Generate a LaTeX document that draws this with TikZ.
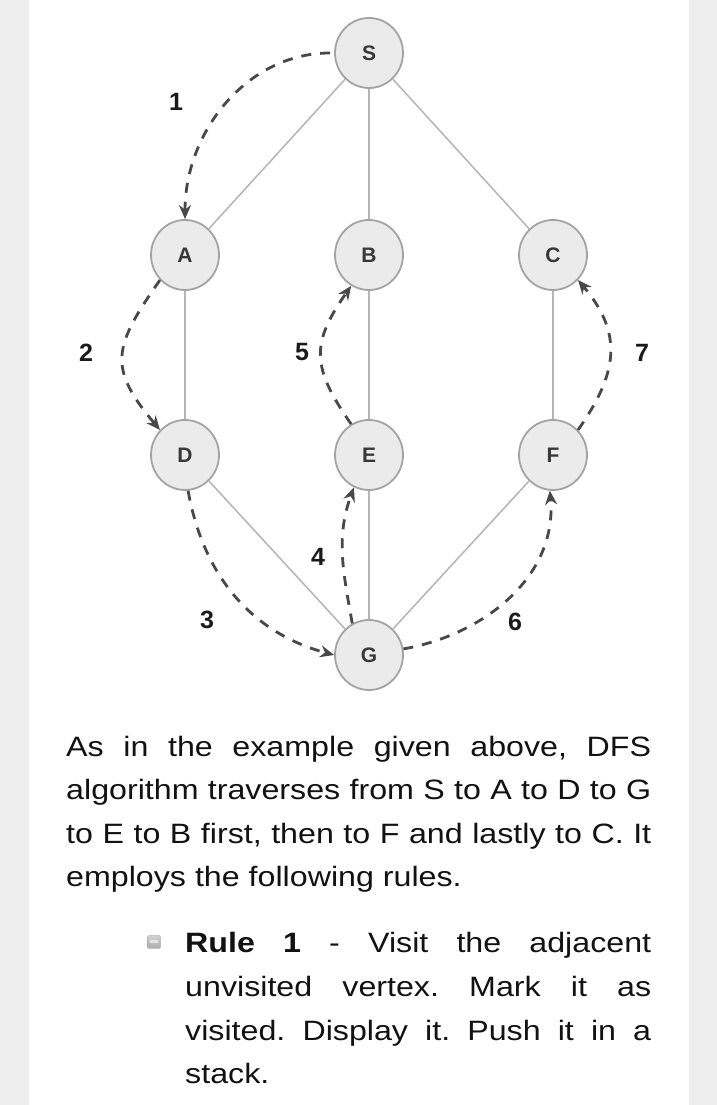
\documentclass[tikz,border=0pt]{standalone}
\usepackage{fontspec}
\setmainfont{Liberation Sans}
\newfontfamily\txtfont{Liberation Sans}[FakeStretch=1.15]
\usepackage{tikz}
\usetikzlibrary{shapes.geometric,arrows.meta}
\frenchspacing

\definecolor{stripgray}{HTML}{EDEDED}
\definecolor{nodefill}{HTML}{EBEBEB}
\definecolor{nodeline}{HTML}{A3A3A3}
\definecolor{edgegray}{HTML}{B5B5B5}
\definecolor{walkgray}{HTML}{484848}
\definecolor{inkgray}{HTML}{1A1A1A}

\tikzset{
  vertex/.style={ellipse,draw=nodeline,fill=nodefill,line width=1.8pt,minimum width=68pt,minimum height=70pt,inner sep=0pt,
    text=black!78,font=\fontsize{21}{21}\selectfont\bfseries},
  edge/.style={draw=edgegray,line width=1.5pt},
  walk/.style={draw=walkgray,line width=2.8pt,dash pattern=on 10pt off 9pt,-{Stealth[length=14pt,width=12pt]}},
  steplabel/.style={text=inkgray,font=\fontsize{25}{25}\selectfont\bfseries},
  txtline/.style={anchor=base west,inner sep=0pt,text=black!93,font=\txtfont\fontsize{28}{28}\selectfont}
}

\begin{document}
\begin{tikzpicture}[x=1pt,y=1pt]
	\useasboundingbox (0,0) rectangle (717,1105);
	\fill[white] (0,0) rectangle (717,1105);
	\fill[stripgray] (0,0) rectangle (29,1105);
	\fill[stripgray] (689,0) rectangle (717,1105);
	% graph
	\foreach \n/\x/\y in {S/369/1052,A/185/850,B/369/850,C/553/850,D/185/650,E/369/650,F/553/650,G/369/450}{
		\node[vertex] (\n) at (\x,\y) {\n};}
	\foreach \a/\b in {S/A,S/B,S/C,A/D,B/E,C/F,D/G,E/G,F/G}{\draw[edge] (\a)--(\b);}
	% depth first walk
	\draw[walk,shorten <=4pt] (S.west) to[out=180,in=90] (A.north);
	\draw[walk] (A.225) to[out=235,in=130,looseness=1.4] (D.135);
	\draw[walk] (D.-85) to[out=-80,in=165] (G.west);
	\draw[walk] (G.118) to[out=100,in=250] (E.245);
	\draw[walk] (E.120) to[out=125,in=235,looseness=1.3] (B.240);
	\draw[walk] (G.10) to[out=10,in=-85] (F.265);
	\draw[walk] (F.45) to[out=55,in=-50,looseness=1.2] (C.-45);
	\foreach \k/\x/\y in {1/176/1003,2/86/752,3/207/485,4/318/548,5/302/753,6/515/483,7/642/752}{
		\node[steplabel] (lab\k) at (\x,\y) {\k};}
	% text below
	\node[txtline] (par1) at (66,348) {\makebox[585pt][s]{As in the example given above, DFS}};
	\node[txtline] (par2) at (66,305) {\makebox[585pt][s]{algorithm traverses from S to A to D to G}};
	\node[txtline] (par3) at (66,261) {\makebox[585pt][s]{to E to B first, then to F and lastly to C. It}};
	\node[txtline] (par4) at (66,218) {employs the following rules.};
	\node[rounded corners=2pt,minimum width=13pt,minimum height=13pt,inner sep=0pt,draw=gray!80,
		top color=gray!35,bottom color=gray!65] (bullet) at (154,163) {};
	\fill[white!80!gray] ([xshift=-4pt,yshift=-1pt]bullet.center) rectangle ([xshift=4pt,yshift=1.5pt]bullet.center);
	\node[txtline] (rule1) at (185,152) {\makebox[466pt][s]{\bfseries Rule 1\mdseries{} - Visit the adjacent}};
	\node[txtline] (rule2) at (185,108) {\makebox[466pt][s]{unvisited vertex. Mark it as}};
	\node[txtline] (rule3) at (185,64) {\makebox[466pt][s]{visited. Display it. Push it in a}};
	\node[txtline] (rule4) at (185,21) {stack.};
\end{tikzpicture}
\end{document}
